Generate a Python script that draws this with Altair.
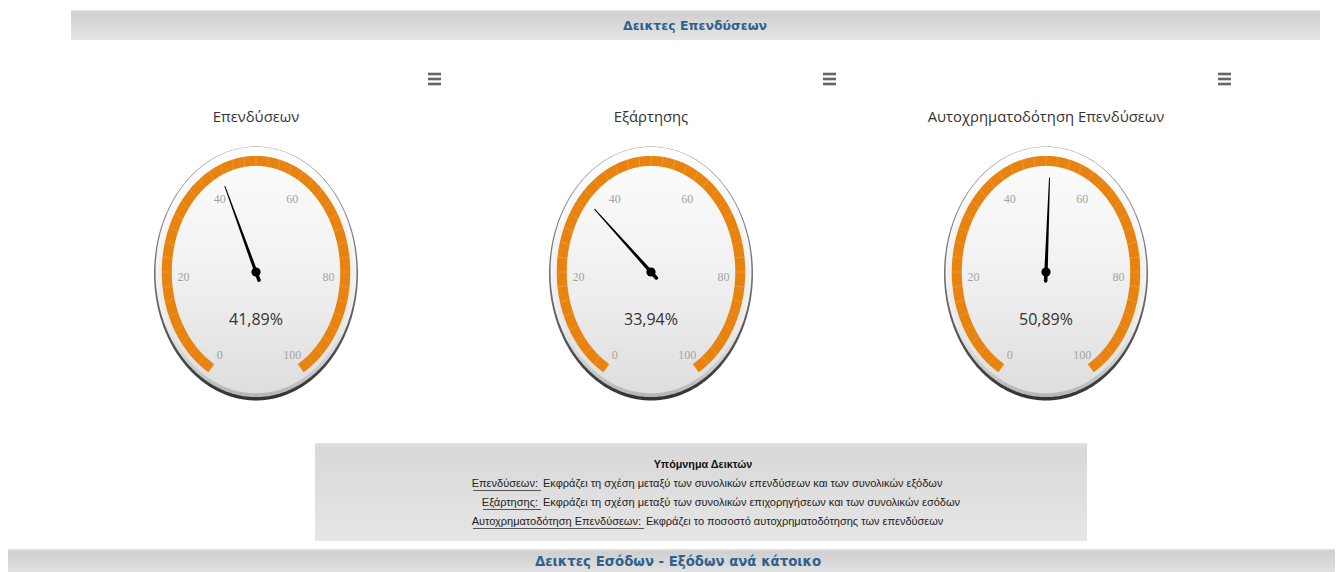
import altair as alt
import numpy as np
import pandas as pd

# ---------------- data ----------------
section_titles = ["Δεικτες Επενδύσεων", "Δεικτες Εσόδων - Εξόδων ανά κάτοικο"]
gauge_titles = ["Επενδύσεων", "Εξάρτησης", "Αυτοχρηματοδότηση Επενδύσεων"]
gauge_values = [41.89, 33.94, 50.89]
gauge_labels = ["41,89%", "33,94%", "50,89%"]
tick_values = [0, 20, 40, 60, 80, 100]
legend_title = "Υπόμνημα Δεικτών"
legend_terms = ["Επενδύσεων:", "Εξάρτησης:", "Αυτοχρηματοδότηση Επενδύσεων:"]
legend_descs = [
    "Εκφράζει τη σχέση μεταξύ των συνολικών επενδύσεων και των συνολικών εξόδων",
    "Εκφράζει τη σχέση μεταξύ των συνολικών επιχορηγήσεων και των συνολικών εσόδων",
    "Εκφράζει το ποσοστό αυτοχρηματοδότησης των επενδύσεων",
]

# ---------------- layout (page pixels) ----------------
W, H = 1327, 564
GX = [256, 651, 1046]
GY = 272
RX, RY = 102, 127
START, END = -150.0, 150.0
ORANGE = "#E8830F"
BLUE = "#2F6190"
LEG_FONT = "Liberation Sans"


def ang(v):
    return np.deg2rad(START + (END - START) * np.asarray(v, dtype=float) / 100.0)


def px(cx, k, v):
    return cx + k * RX * np.sin(ang(v))


def py(k, v, cy=GY):
    return cy - k * RY * np.cos(ang(v))


XS = alt.Scale(domain=[8, 8 + W], nice=False, zero=False)
YS = alt.Scale(domain=[8, 8 + H], nice=False, zero=False, reverse=True)


def X(f="x"):
    return alt.X(f"{f}:Q", scale=XS, axis=None)


def Y(f="y"):
    return alt.Y(f"{f}:Q", scale=YS, axis=None)


def grad(stops, x1=0, y1=0, x2=0, y2=1):
    return alt.Gradient(
        gradient="linear",
        stops=[alt.GradientStop(color=c, offset=o) for o, c in stops],
        x1=x1, y1=y1, x2=x2, y2=y2,
    )


layers = []

# header bars
hdr = pd.DataFrame({"x": [71, 8], "x2": [1320, 1335], "y": [10, 549], "y2": [40, 578]})
layers.append(
    alt.Chart(hdr).mark_rect(color=grad([(0, "#e8e8e8"), (0.08, "#cfcfcf"), (1, "#e6e6e6")]))
    .encode(x=X(), x2="x2", y=Y(), y2="y2")
)
hdr_t = pd.DataFrame({"x": [695, 678], "y": [26, 562], "t": section_titles, "s": [12.5, 13.3]})
for i in range(2):
    layers.append(
        alt.Chart(hdr_t.iloc[[i]]).mark_text(
            font="DejaVu Sans", fontWeight="bold", fontSize=float(hdr_t.s[i]), color=BLUE,
            baseline="middle", align="center")
        .encode(x=X(), y=Y(), text="t:N")
    )

# menu icons
menu = pd.DataFrame([
    {"x": gx + 172, "x2": gx + 185, "y": GY - 198 + j * 5} for gx in GX for j in range(3)
])
layers.append(
    alt.Chart(menu).mark_rule(color="#666666", strokeWidth=2.6)
    .encode(x=X(), x2="x2", y=Y())
)

# gauge titles
gt = pd.DataFrame({"x": GX, "y": [118] * 3, "t": gauge_titles})
layers.append(
    alt.Chart(gt).mark_text(font="Open Sans", fontSize=14.8, color="#333333", baseline="middle")
    .encode(x=X(), y=Y(), text="t:N")
)


def ellipse(k, dy=0):
    t = np.linspace(0, np.pi, 181)
    rows = []
    for g, gx in enumerate(GX):
        for tt in t:
            rows.append({"g": g, "x": gx - k * RX * np.cos(tt),
                         "y": GY + dy - k * RY * np.sin(tt),
                         "y2": GY + dy + k * RY * np.sin(tt)})
    return pd.DataFrame(rows)


layers.append(alt.Chart(ellipse(1.0, 1.5)).mark_area(
    color=grad([(0, "#9a9a9a"), (0.6, "#6a6a6a"), (1, "#333333")]))
    .encode(x=X(), y=Y(), y2="y2", detail="g:N"))
layers.append(alt.Chart(ellipse(0.985)).mark_area(
    color=grad([(0, "#ffffff"), (0.7, "#eeeeee"), (1, "#b5b5b5")]))
    .encode(x=X(), y=Y(), y2="y2", detail="g:N"))
layers.append(alt.Chart(ellipse(0.955)).mark_area(
    color=grad([(0, "#fcfcfc"), (0.5, "#f1f1f1"), (1, "#dedede")]))
    .encode(x=X(), y=Y(), y2="y2", detail="g:N"))

# orange band
vv = np.linspace(0, 100, 301)
band = pd.DataFrame([
    {"g": g, "i": i, "x": px(gx, 0.875, v), "y": py(0.875, v)}
    for g, gx in enumerate(GX) for i, v in enumerate(vv)
])
layers.append(
    alt.Chart(band).mark_line(color=ORANGE, strokeWidth=10, strokeCap="butt")
    .encode(x=X(), y=Y(), detail="g:N", order="i:Q")
)

# minor ticks on the band
mv = np.arange(0, 100.01, 2.5)
mt = pd.DataFrame([
    {"x": px(gx, 0.83, v), "y": py(0.83, v), "x2": px(gx, 0.92, v), "y2": py(0.92, v)}
    for gx in GX for v in mv
])
layers.append(
    alt.Chart(mt).mark_rule(color="#ffffff", opacity=0.16, strokeWidth=1)
    .encode(x=X(), y=Y(), x2="x2", y2="y2")
)

# tick labels
tl = pd.DataFrame([
    {"x": px(gx, 0.71, v), "y": py(0.71, v) + 5, "t": str(v)}
    for gx in GX for v in tick_values
])
layers.append(
    alt.Chart(tl).mark_text(font="Liberation Serif", fontSize=12, color="#a3a3a3", baseline="middle")
    .encode(x=X(), y=Y(), text="t:N")
)

# value labels
vl = pd.DataFrame({"x": GX, "y": [GY + 48] * 3, "t": gauge_labels})
layers.append(
    alt.Chart(vl).mark_text(font="Open Sans", fontSize=16, color="#333333", baseline="middle")
    .encode(x=X(), y=Y(), text="t:N")
)

# needles
nd = []
for g, (gx, v) in enumerate(zip(GX, gauge_values)):
    for i, (k, w) in enumerate([(-0.07, 3.6), (0.0, 3.4), (0.74, 1.0)]):
        nd.append({"g": g, "i": i, "x": px(gx, k, v), "y": py(k, v), "w": w})
nd = pd.DataFrame(nd)
layers.append(
    alt.Chart(nd).mark_trail(color="#000000")
    .encode(x=X(), y=Y(), detail="g:N", order="i:Q", size=alt.Size("w:Q", scale=None))
)
piv = pd.DataFrame({"x": GX, "y": [GY] * 3})
layers.append(
    alt.Chart(piv).mark_circle(color="#000000", size=85, opacity=1)
    .encode(x=X(), y=Y())
)

# legend box
lb = pd.DataFrame({"x": [315], "x2": [1087], "y": [443], "y2": [541]})
layers.append(
    alt.Chart(lb).mark_rect(color=grad([(0, "#e4e4e4"), (0.05, "#d8d8d8"), (1, "#e6e6e6")]))
    .encode(x=X(), x2="x2", y=Y(), y2="y2")
)
ltd = pd.DataFrame({"x": [703], "y": [465], "t": [legend_title]})
layers.append(
    alt.Chart(ltd).mark_text(font=LEG_FONT, fontWeight="bold", fontSize=10.8,
                             color="#111111", baseline="middle")
    .encode(x=X(), y=Y(), text="t:N")
)
split_x = [541, 541, 644]          # end of underline / start of description
ul_x0 = [473, 483, 473]            # start of underline (term start)
line_y = [484, 503, 522]
terms = pd.DataFrame({"x": [s - 3 for s in split_x], "y": line_y, "t": legend_terms})
descs = pd.DataFrame({"x": [s + 2 for s in split_x], "y": line_y, "t": legend_descs})
uls = pd.DataFrame({"x": ul_x0, "x2": split_x, "y": [v + 6.5 for v in line_y]})
layers.append(
    alt.Chart(terms).mark_text(font=LEG_FONT, fontSize=11, color="#222222",
                               baseline="middle", align="right")
    .encode(x=X(), y=Y(), text="t:N")
)
layers.append(
    alt.Chart(descs).mark_text(font=LEG_FONT, fontSize=11, color="#222222",
                               baseline="middle", align="left")
    .encode(x=X(), y=Y(), text="t:N")
)
layers.append(
    alt.Chart(uls).mark_rule(color="#333333", strokeWidth=0.8)
    .encode(x=X(), x2="x2", y=Y())
)

chart = (
    alt.layer(*layers)
    .properties(width=W, height=H, padding=0, autosize=alt.AutoSizeParams(type="none"),
                background="#ffffff")
    .configure_view(stroke=None)
)

chart.save("out.html", embed_options={"renderer": "svg", "actions": False})
